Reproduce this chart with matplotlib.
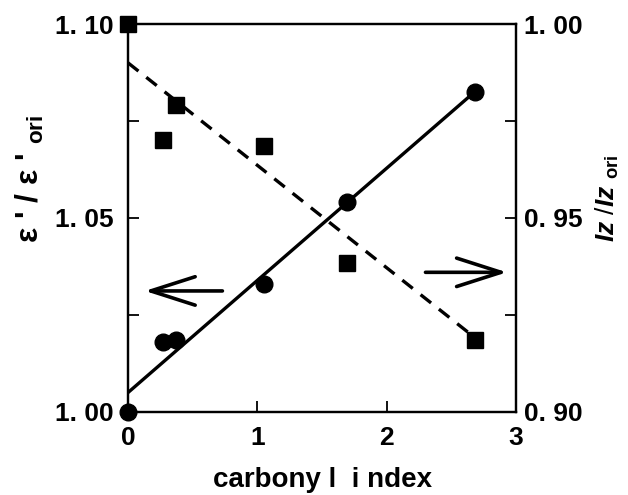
import numpy as np
import matplotlib
matplotlib.use("Agg")
import matplotlib.pyplot as plt
from matplotlib.ticker import MultipleLocator, FuncFormatter

# circles -> left axis (permittivity ratio)
ci_x = [0.0, 0.27, 0.37, 1.05, 1.69, 2.68]
ci_y = [1.000, 1.018, 1.0186, 1.033, 1.054, 1.0825]
# squares -> right axis (intensity ratio)
sq_x = [0.0, 0.27, 0.37, 1.05, 1.69, 2.68]
sq_y = [1.000, 0.970, 0.979, 0.9686, 0.9384, 0.9186]
# fitted lines (end points)
fit_ci_x = [0.0, 2.68]
fit_ci_y = [1.005, 1.0825]
fit_sq_x = [0.0, 2.65]
fit_sq_y = [0.990, 0.920]

plt.rcParams['font.family'] = ['Liberation Sans', 'DejaVu Sans']
plt.rcParams['mathtext.fontset'] = 'custom'
plt.rcParams['mathtext.rm'] = 'Liberation Sans:bold'
plt.rcParams['mathtext.it'] = 'Liberation Sans:italic:bold'
plt.rcParams['mathtext.bf'] = 'Liberation Sans:bold'

fig = plt.figure(figsize=(6.28, 4.95), dpi=100)
ax = fig.add_axes([0.2038, 0.1677, 0.6179, 0.7838])
ax2 = ax.twinx()

ax.plot(fit_ci_x, fit_ci_y, color='black', lw=2.4, zorder=3)
ax.plot(ci_x, ci_y, 'o', color='black', ms=12, clip_on=False, zorder=4)
ax2.plot(fit_sq_x, fit_sq_y, color='black', lw=2.4, ls=(0, (4, 3)))
ax2.plot(sq_x, sq_y, 's', color='black', ms=11, clip_on=False)

ax.set_xlim(0, 3)
ax.set_ylim(1.00, 1.10)
ax2.set_ylim(0.90, 1.00)

ax.xaxis.set_major_locator(MultipleLocator(1))
ax.yaxis.set_major_locator(MultipleLocator(0.05))
ax.yaxis.set_minor_locator(MultipleLocator(0.025))
ax2.yaxis.set_major_locator(MultipleLocator(0.05))
ax2.yaxis.set_minor_locator(MultipleLocator(0.025))

fmt = FuncFormatter(lambda v, p: ("%.2f" % v).replace('.', '. '))
ax.yaxis.set_major_formatter(fmt)
ax2.yaxis.set_major_formatter(fmt)

for a in (ax, ax2):
    a.tick_params(which='both', direction='in', length=8, width=1.3,
                  labelsize=19)
    for s in a.spines.values():
        s.set_linewidth(1.6)
ax.tick_params(axis='y', pad=10)
ax.tick_params(axis='x', pad=10)
ax2.tick_params(axis='y', pad=6)
for lab in ax.get_xticklabels() + ax.get_yticklabels() + ax2.get_yticklabels():
    lab.set_fontweight('bold')

ax.set_xlabel('carbony l  i ndex', fontsize=20, fontweight='bold', labelpad=12)
ax.set_ylabel("ε ' / ε ' $_{\\rm ori}$", fontsize=23, fontweight='bold')
ax.yaxis.set_label_coords(-0.21, 0.6)
ax2.set_ylabel("$Iz$ /$Iz$ $_{\\rm ori}$", fontsize=19, rotation=90)
ax2.yaxis.set_label_coords(1.2, 0.55)

# arrows pointing to the corresponding axis
arrow = dict(arrowstyle='->,head_length=1.0,head_width=0.32', lw=2.6,
             color='black', mutation_scale=32, shrinkA=0, shrinkB=0)
ax.annotate('', xy=(0.13, 1.0312), xytext=(0.73, 1.0312), arrowprops=arrow)
ax2.annotate('', xy=(2.93, 0.936), xytext=(2.30, 0.936), arrowprops=arrow)

fig.savefig('out.png', dpi=100)
